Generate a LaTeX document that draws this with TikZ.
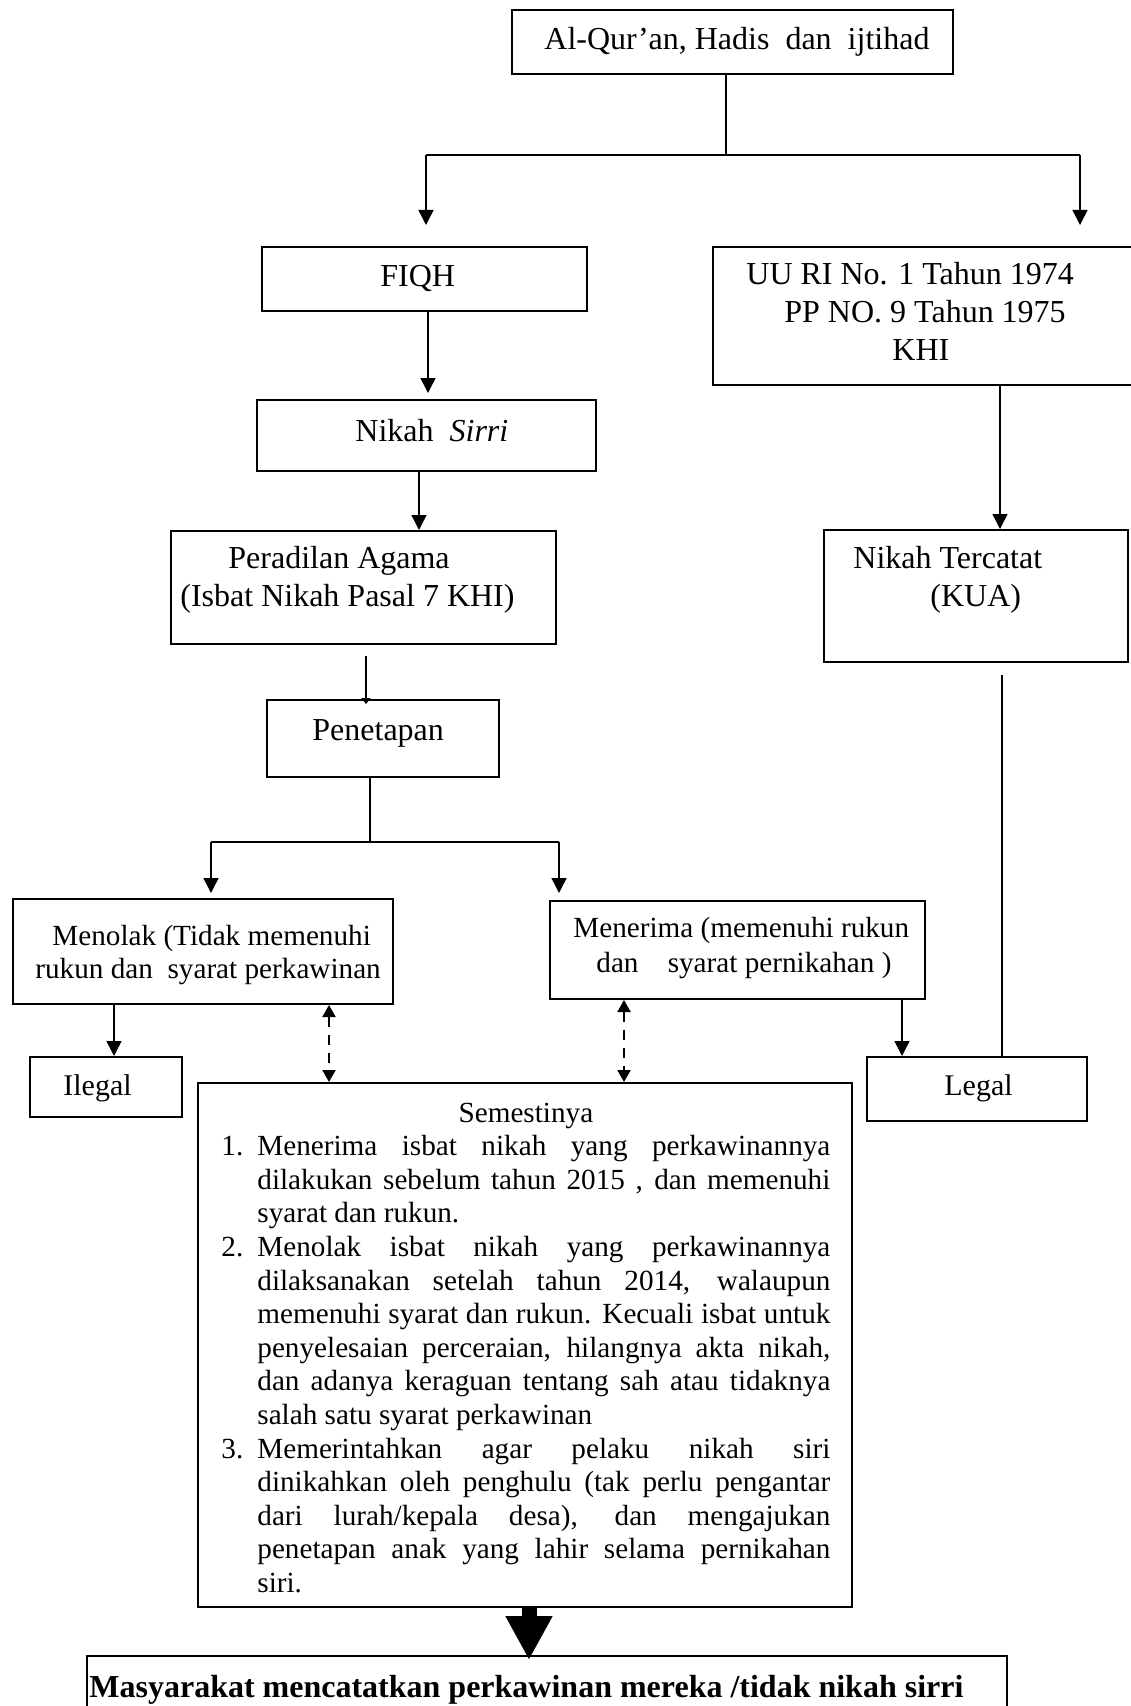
\documentclass[tikz,border=0pt]{standalone}
\usepackage{fontspec}
\setmainfont{Liberation Serif}
\usetikzlibrary{arrows.meta,fit,calc}
\newcommand\SmJ[1]{\hbox to 286.5pt{#1}}
\newcommand\SmL[1]{\hbox to 286.5pt{#1\hfil}}
\newcommand\SmN[2]{\hbox{\hbox to 18pt{#1\hfil}#2}}
\newcommand\SmC[1]{\hbox{\hskip18pt #1}}
\begin{document}
\begin{tikzpicture}[x=0.5pt,y=-0.5pt,
  box/.style={draw, line width=1pt, inner sep=0pt},
  txt/.style={inner sep=0pt, anchor=base west, font=\fontsize{16}{18.5}\selectfont},
  txts/.style={inner sep=0pt, anchor=base west, font=\fontsize{14.6}{16.8}\selectfont},
  conn/.style={line width=0.75pt},
  arr/.style={conn, -{Triangle[length=7.5pt,width=7.5pt]}},
  arrsmall/.style={conn, -{Triangle[length=3pt,width=4.5pt]}, shorten >=-2.5pt},
  darr/.style={line width=1pt, dash pattern=on 5pt off 4pt,
    {Triangle[length=6pt,width=6.5pt]}-{Triangle[length=6pt,width=6.5pt]}},
  fat/.style={line width=7.5pt, -{Triangle[length=22pt,width=22pt]}, shorten >=-2.5pt}
]
\useasboundingbox (0,0) rectangle (1130,1706);

% ---------- boxes ----------
\node[box, fit={(512,10) (953,74)}] (top) {};
\node[box, fit={(262,247) (587,311)}] (fiqh) {};
\node[box, fit={(713,247) (1140,385)}] (uu) {};
\node[box, fit={(257,400) (596,471)}] (sirri) {};
\node[box, fit={(171,531) (556,644)}] (per) {};
\node[box, fit={(824,530) (1128,662)}] (terc) {};
\node[box, fit={(267,700) (499,777)}] (pen) {};
\node[box, fit={(13,899) (393,1004)}] (menolak) {};
\node[box, fit={(550,901) (925,999)}] (menerima) {};
\node[box, fit={(30,1057) (182,1117)}] (ilegal) {};
\node[box, fit={(867,1057) (1087,1121)}] (legal) {};
\node[box, fit={(198,1083) (852,1607)}] (sem) {};
\node[box, fit={(87,1656) (1007,1720)}] (bot) {};

% ---------- texts ----------
\node[txt] (ttop) at (544,50) {Al-Qur’an, Hadis\ \ dan\ \ ijtihad};
\node[txt] (tfiqh) at (380,287) {FIQH};
\node[txt] (tuu1) at (746,285) {UU RI No. 1 Tahun 1974};
\node[txt] (tuu2) at (784,322) {PP NO. 9 Tahun 1975};
\node[txt] (tuu3) at (892,360) {KHI};
\node[txt] (tsirri) at (355,441) {Nikah\ \ \textit{Sirri}};
\node[txt] (tper1) at (228,568) {Peradilan Agama};
\node[txt] (tper2) at (180,606) {(Isbat Nikah Pasal 7 KHI)};
\node[txt] (tterc1) at (853,568) {Nikah Tercatat};
\node[txt] (tterc2) at (930,606) {(KUA)};
\node[txt] (tpen) at (312,740) {Penetapan};
\node[txts] (tmenolak1) at (52,945) {Menolak (Tidak memenuhi};
\node[txts] (tmenolak2) at (35,978) {rukun dan\ \ syarat perkawinan};
\node[txts] (tmenerima1) at (573,937) {Menerima (memenuhi rukun};
\node[txts] (tmenerima2) at (596,972) {dan\ \ \ \ syarat pernikahan )};
\node[txts, font=\fontsize{15}{17}\selectfont] (tilegal) at (63,1095) {Ilegal};
\node[txts, font=\fontsize{15}{17}\selectfont] (tlegal) at (944,1095) {Legal};
\node[txts] (tsem) at (221,1122) {\vtop{\baselineskip=16.8pt \lineskiplimit=-50pt \lineskip=0pt
  \hbox to 304.5pt{\hfil Semestinya\hfil}
  \SmN{1.}{\SmJ{Menerima isbat nikah yang perkawinannya}}
  \SmC{\SmJ{dilakukan sebelum tahun 2015 , dan memenuhi}}
  \SmC{\SmL{syarat dan rukun.}}
  \SmN{2.}{\SmJ{Menolak isbat nikah yang perkawinannya}}
  \SmC{\SmJ{dilaksanakan setelah tahun 2014, walaupun}}
  \SmC{\SmJ{memenuhi syarat dan rukun. Kecuali isbat untuk}}
  \SmC{\SmJ{penyelesaian perceraian, hilangnya akta nikah,}}
  \SmC{\SmJ{dan adanya keraguan tentang sah atau tidaknya}}
  \SmC{\SmL{salah satu syarat perkawinan}}
  \SmN{3.}{\SmJ{Memerintahkan agar pelaku nikah siri}}
  \SmC{\SmJ{dinikahkan oleh penghulu (tak perlu pengantar}}
  \SmC{\SmJ{dari lurah/kepala desa), dan mengajukan}}
  \SmC{\SmJ{penetapan anak yang lahir selama pernikahan}}
  \SmC{\SmL{siri.}}}};
\node[txt, font=\fontsize{16}{18.5}\selectfont\bfseries] (tbot) at (89,1697) {Masyarakat mencatatkan perkawinan mereka /tidak nikah sirri};

% ---------- connectors ----------
\coordinate (j1) at (726,155);
\coordinate (j1L) at (426,155);
\coordinate (j1R) at (1080,155);
\coordinate (e1L) at (426,225);
\coordinate (e1R) at (1080,225);
\draw[conn] (top.south -| j1) -- (j1);
\draw[conn] (j1L) -- (j1R);
\draw[arr] (j1L) -- (e1L);
\draw[arr] (j1R) -- (e1R);

\coordinate (e2) at (428,393);
\draw[arr] (fiqh.south -| e2) -- (e2);

\coordinate (x3) at (419,0);
\draw[arr] (sirri.south -| x3) -- (per.north -| x3);

\coordinate (s4) at (366,656);
\draw[arrsmall] (s4) -- (pen.north -| s4);

\coordinate (j5) at (370,842);
\coordinate (j5L) at (211,842);
\coordinate (j5R) at (559,842);
\coordinate (e5L) at (211,893);
\coordinate (e5R) at (559,893);
\draw[conn] (pen.south -| j5) -- (j5);
\draw[conn] (j5L) -- (j5R);
\draw[arr] (j5L) -- (e5L);
\draw[arr] (j5R) -- (e5R);

\coordinate (x6) at (1000,0);
\draw[arr] (uu.south -| x6) -- (terc.north -| x6);

\coordinate (s7) at (1002,675);
\draw[conn] (s7) -- (legal.north -| s7);

\coordinate (x8) at (114,0);
\draw[arr] (menolak.south -| x8) -- (ilegal.north -| x8);

\coordinate (x9) at (902,0);
\draw[arr] (menerima.south -| x9) -- (legal.north -| x9);

\coordinate (x10) at (329,0);
\coordinate (x11) at (624,0);
\draw[darr] (menolak.south -| x10) -- (sem.north -| x10);
\draw[darr] (menerima.south -| x11) -- (sem.north -| x11);

\coordinate (x12) at (529,0);
\draw[fat] (sem.south -| x12) -- (bot.north -| x12);
\end{tikzpicture}
\end{document}
